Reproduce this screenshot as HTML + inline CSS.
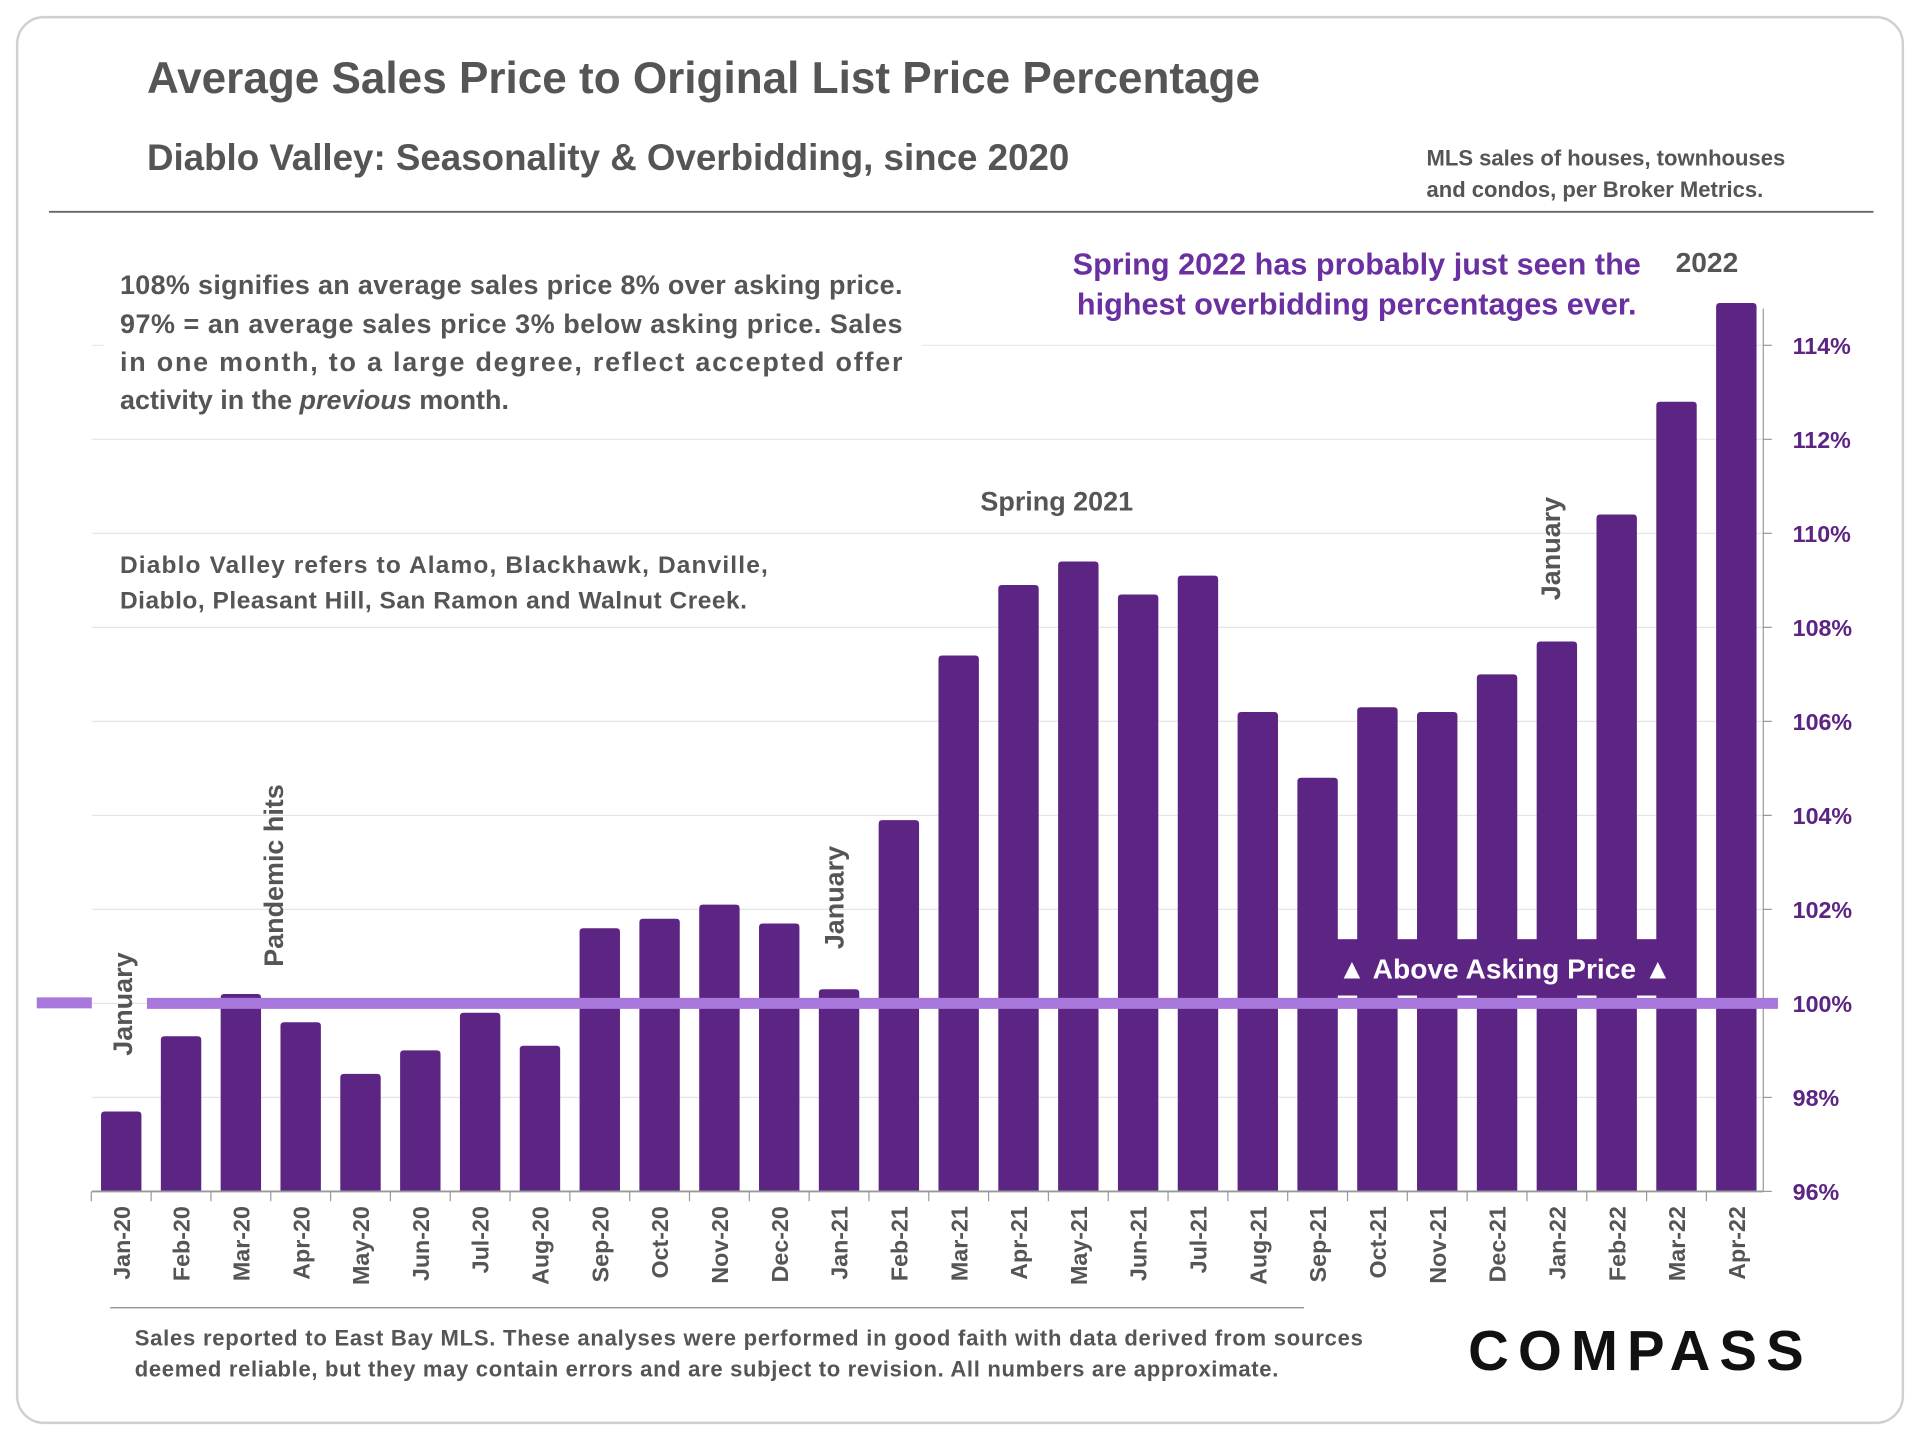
<!DOCTYPE html>
<html><head><meta charset="utf-8"><style>
html,body{margin:0;padding:0;background:#fff;}
svg{display:block;font-family:"Liberation Sans",sans-serif;}
</style></head><body>
<svg id="chart" width="1920" height="1440" viewBox="0 0 1568 1176" xmlns="http://www.w3.org/2000/svg">
<rect x="14" y="14" width="1540" height="1148" rx="22" fill="#fff" stroke="#d0d0d0" stroke-width="2"/>
<text x="120" y="76" font-size="36" font-weight="bold" fill="#555">Average Sales Price to Original List Price Percentage</text>
<text x="120" y="139" font-size="30" font-weight="bold" fill="#555">Diablo Valley: Seasonality &amp; Overbidding, since 2020</text>
<text font-size="18" font-weight="bold" fill="#555"><tspan x="1165" y="135">MLS sales of houses, townhouses</tspan><tspan x="1165" y="161">and condos, per Broker Metrics.</tspan></text>
<line x1="40" y1="173" x2="1530" y2="173" stroke="#666" stroke-width="1.5"/>
<g id="grid"></g>
<g id="bars"></g>
<g id="yaxis"></g>
<g id="xaxis"></g>
<rect x="85" y="205" width="668" height="140" fill="#fff"/>
<text font-size="22" font-weight="bold" fill="#555"><tspan x="98" y="240" textLength="639">108% signifies an average sales price 8% over asking price.</tspan><tspan x="98" y="272" textLength="639">97% = an average sales price 3% below asking price. Sales</tspan><tspan x="98" y="303" textLength="639">in one month, to a large degree, reflect accepted offer</tspan><tspan x="98" y="334">activity in the <tspan font-style="italic">previous</tspan> month.</tspan></text>
<text font-size="20" font-weight="bold" fill="#555"><tspan x="98" y="468" textLength="529">Diablo Valley refers to Alamo, Blackhawk, Danville,</tspan><tspan x="98" y="497" textLength="512">Diablo, Pleasant Hill, San Ramon and Walnut Creek.</tspan></text>
<text font-size="25" font-weight="bold" fill="#6a2fa0" text-anchor="middle"><tspan x="1108" y="224">Spring 2022 has probably just seen the</tspan><tspan x="1108" y="257">highest overbidding percentages ever.</tspan></text>
<text x="1394" y="222" font-size="23" font-weight="bold" fill="#555" text-anchor="middle">2022</text>
<text x="863" y="417" font-size="22" font-weight="bold" fill="#555" text-anchor="middle">Spring 2021</text>
<text transform="translate(108,820) rotate(-90)" font-size="22" font-weight="bold" fill="#555" text-anchor="middle">January</text>
<text transform="translate(231,715) rotate(-90)" font-size="22" font-weight="bold" fill="#555" text-anchor="middle">Pandemic hits</text>
<text transform="translate(689,733) rotate(-90)" font-size="22" font-weight="bold" fill="#555" text-anchor="middle">January</text>
<text transform="translate(1274,448) rotate(-90)" font-size="22" font-weight="bold" fill="#555" text-anchor="middle">January</text>
<line x1="30" y1="819" x2="75" y2="819" stroke="#a877db" stroke-width="9"/>
<rect x="1092" y="767" width="262" height="46" fill="#5c2483"/>
<g id="refline"></g>
<text x="1229" y="799" font-size="23" font-weight="bold" fill="#fff" text-anchor="middle">▲ Above Asking Price ▲</text>
<line x1="90" y1="1068" x2="1065" y2="1068" stroke="#888" stroke-width="1"/>
<text font-size="18" font-weight="bold" fill="#555"><tspan x="110" y="1099" textLength="1003">Sales reported to East Bay MLS. These analyses were performed in good faith with data derived from sources</tspan><tspan x="110" y="1124" textLength="934">deemed reliable, but they may contain errors and are subject to revision. All numbers are approximate.</tspan></text>
<text x="1340" y="1119" font-size="46" font-weight="bold" fill="#111" text-anchor="middle" letter-spacing="8" textLength="282">COMPASS</text>
</svg>
<script>
const categories=["Jan-20","Feb-20","Mar-20","Apr-20","May-20","Jun-20","Jul-20","Aug-20","Sep-20","Oct-20","Nov-20","Dec-20","Jan-21","Feb-21","Mar-21","Apr-21","May-21","Jun-21","Jul-21","Aug-21","Sep-21","Oct-21","Nov-21","Dec-21","Jan-22","Feb-22","Mar-22","Apr-22"];
const values=[97.7,99.3,100.2,99.6,98.5,99.0,99.8,99.1,101.6,101.8,102.1,101.7,100.3,103.9,107.4,108.9,109.4,108.7,109.1,106.2,104.8,106.3,106.2,107.0,107.7,110.4,112.8,114.9];
const yTicks=[96,98,100,102,104,106,108,110,112,114];
const yTickLabels=["96%","98%","100%","102%","104%","106%","108%","110%","112%","114%"];
const NS="http://www.w3.org/2000/svg";
const yMin=96,yMax=114,y0=973,y1=282;
function y(v){return y0-(v-yMin)/(yMax-yMin)*(y0-y1);}
const xStart=99,xStep=(1418-99)/27,bw=33;
function x(i){return xStart+i*xStep;}
function mk(tag,attrs,parent){const e=document.createElementNS(NS,tag);for(const k in attrs)e.setAttribute(k,attrs[k]);parent.appendChild(e);return e;}
const grid=document.getElementById('grid'),bars=document.getElementById('bars'),ya=document.getElementById('yaxis'),xa=document.getElementById('xaxis');
yTicks.forEach((t,i)=>{
  if(i>0){const g=mk('line',{x1:75,x2:1440,y1:y(t),y2:y(t),stroke:'#e6e6e6','stroke-width':1},grid);
  
  }
  const tk=mk('line',{x1:1440,x2:1447,y1:y(t),y2:y(t),stroke:'#999'},ya);
  
  
  const l=mk('text',{x:1464,y:y(t)+7,'font-size':19,'font-weight':'bold',fill:'#5c2483'},ya);
  l.textContent=yTickLabels[i];
  
  
});
const ax=mk('line',{x1:1440,x2:1440,y1:y1-30,y2:y0,stroke:'#999'},ya);


const bx=mk('line',{x1:75,x2:1440,y1:y0,y2:y0,stroke:'#999','stroke-width':1.5},xa);


categories.forEach((c,i)=>{
  const top=y(values[i]);
  const r=mk('path',{d:`M${x(i)-bw/2},${y0} L${x(i)-bw/2},${top+3} Q${x(i)-bw/2},${top} ${x(i)-bw/2+3},${top} L${x(i)+bw/2-3},${top} Q${x(i)+bw/2},${top} ${x(i)+bw/2},${top+3} L${x(i)+bw/2},${y0} Z`,fill:'#5c2483'},bars);
  
  
  const tk=mk('line',{x1:x(i)-xStep/2,x2:x(i)-xStep/2,y1:y0,y2:y0+8,stroke:'#999'},xa);
  
  
  const t=mk('text',{transform:`translate(${x(i)+7},${y0+12}) rotate(-90)`,'font-size':19,'font-weight':'bold',fill:'#555','text-anchor':'end'},xa);
  t.textContent=c;
  
  
});
const rl=mk('line',{x1:120,x2:1452,y1:y(100),y2:y(100),stroke:'#a877db','stroke-width':9},document.getElementById('refline'));


</script>
</body></html>
